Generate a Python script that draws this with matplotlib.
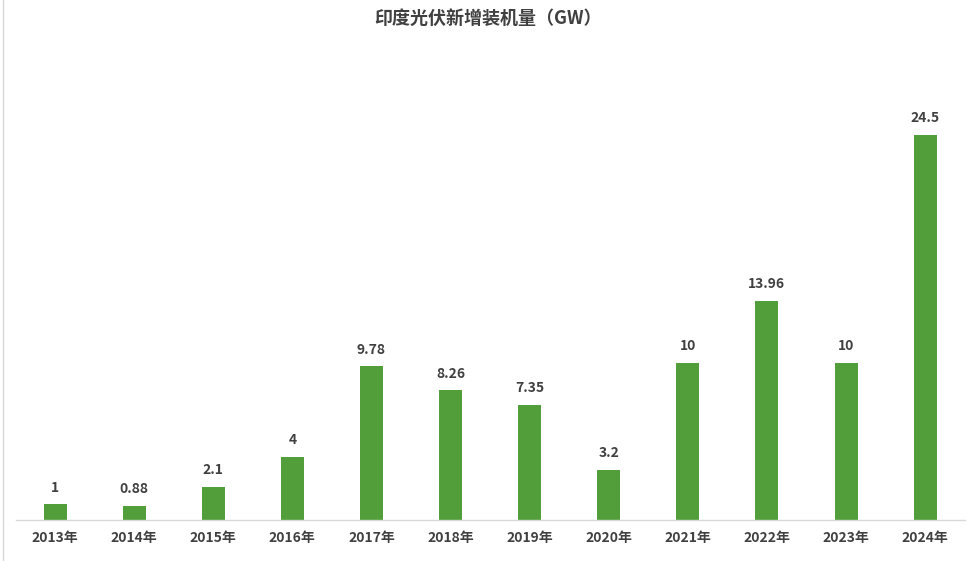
import matplotlib.pyplot as plt
from matplotlib.lines import Line2D

plt.rcParams['font.family'] = ['Noto Sans CJK SC', 'DejaVu Sans']

# data
years = ["2013年", "2014年", "2015年", "2016年", "2017年", "2018年",
         "2019年", "2020年", "2021年", "2022年", "2023年", "2024年"]
capacity = [1, 0.88, 2.1, 4, 9.78, 8.26, 7.35, 3.2, 10, 13.96, 10, 24.5]
labels = ["1", "0.88", "2.1", "4", "9.78", "8.26", "7.35", "3.2",
          "10", "13.96", "10", "24.5"]

text_color = "#404040"
bar_color = "#529E3B"

fig = plt.figure(figsize=(9.76, 5.61), dpi=100)
ax = fig.add_axes([0.0159, 0.0731, 0.9725, 0.84])

x = range(len(years))
bars = ax.bar(x, capacity, width=0.29, color=bar_color, zorder=2)

for b, lab in zip(bars, labels):
    ax.annotate(lab, (b.get_x() + b.get_width() / 2, b.get_height()),
                xytext=(0, 7), textcoords="offset points",
                ha="center", va="bottom", fontsize=10, fontweight="bold",
                color=text_color)

ax.set_xlim(-0.5, len(years) - 0.5)
ax.set_ylim(0, 30)
ax.set_xticks(list(x))
ax.set_xticklabels(years, fontsize=10, fontweight="bold", color=text_color)
ax.tick_params(axis="x", length=0, pad=8)
ax.set_yticks([])
for s in ["top", "right", "left"]:
    ax.spines[s].set_visible(False)
ax.spines["bottom"].set_color("#D9D9D9")
ax.spines["bottom"].set_linewidth(1)

fig.text(0.5, 0.968, "印度光伏新增装机量（GW）", ha="center", va="center",
         fontsize=13, fontweight="bold", color=text_color)

# thin frame line on the left edge
fig.add_artist(Line2D([0.003, 0.003], [0, 1], transform=fig.transFigure,
                      color="#D9D9D9", linewidth=1))

fig.savefig("out.png", dpi=100)
